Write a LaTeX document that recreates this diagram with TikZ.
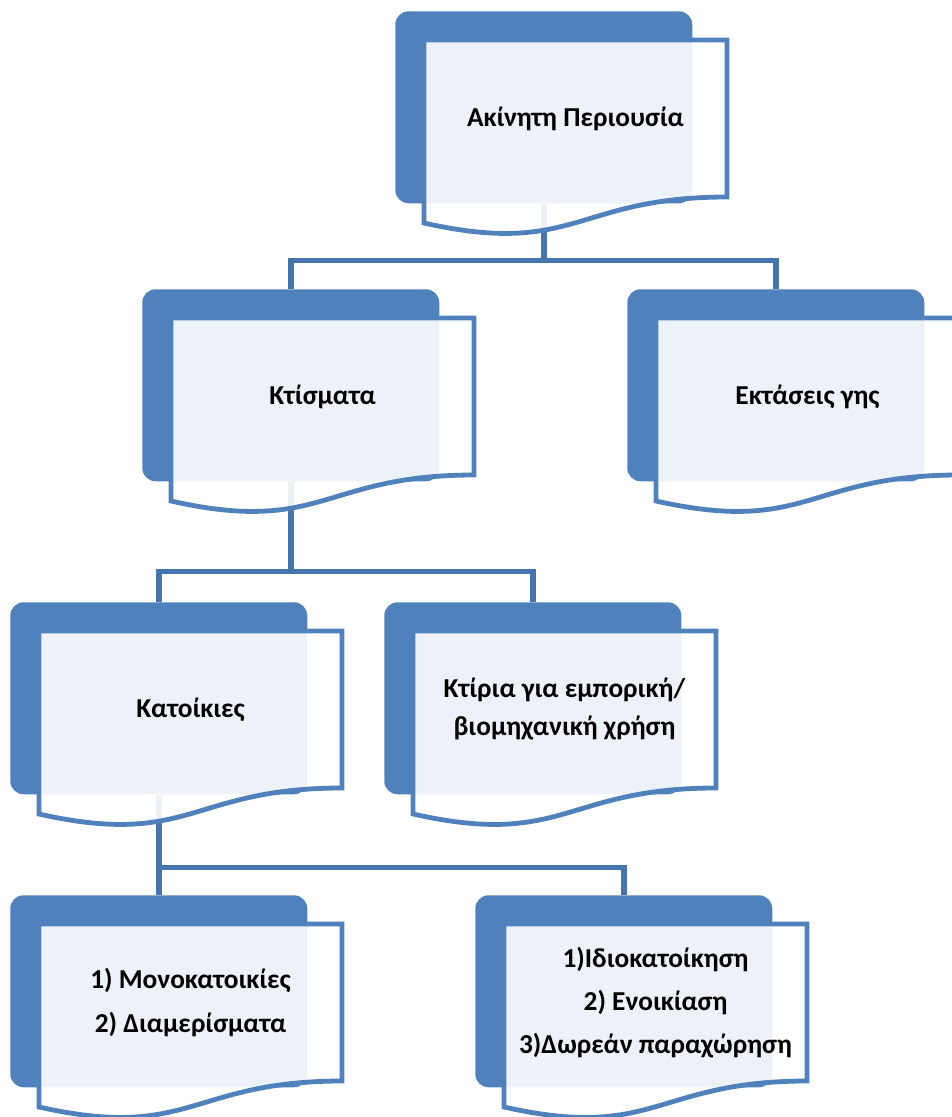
\documentclass[tikz,border=0pt]{standalone}
\usepackage{fontspec}
\setmainfont{Carlito}
\definecolor{tileblue}{HTML}{4F81BD}
\definecolor{linkblue}{HTML}{4674AC}
\tikzset{
  tile/.style={fill=tileblue, draw=none, rounded corners=10pt, minimum width=222.75pt,
               minimum height=144pt, inner sep=0pt, anchor=north west},
  docpage/.style={draw=tileblue, line width=3.6pt, fill=white, fill opacity=0.9},
  link/.style={draw=linkblue, line width=4.2pt},
  lbl/.style={font=\fontsize{20.5}{32.5}\selectfont\bfseries, align=center, text=black},
}
\newcommand{\tilebox}[3]{\node[tile] (#1) at (#2,#3) {};}
\newcommand{\docbox}[2]{%
  \draw[docpage] ([shift={(29,29)}]#1.north west) -- ++(303,0) -- ++(0,157)
     .. controls +(-151.5,0) and +(151.5,34) .. ++(-303,26) -- cycle;
  \node[lbl] (#1-txt) at ([shift={(180.5,107.5)}]#1.north west) {#2};}

\begin{document}
\begin{tikzpicture}[x=0.75pt,y=-0.75pt]
    \useasboundingbox (0,0) rectangle (951,1117);
    \tilebox{akin}{395}{11}
    \tilebox{ktism}{142}{289}
    \tilebox{ektas}{627}{289}
    \tilebox{katoik}{10}{602}
    \tilebox{ktir}{384}{602}
    \tilebox{mono}{10}{895}
    \tilebox{idio}{475}{895}
    % connectors
    \draw[link] (akin.south) -- ++(0,57) coordinate (j1);
    \draw[link] (ktism.north) |- (j1) -| (ektas.north);
    \draw[link] (ktism.south) -- ++(0,90) coordinate (j2);
    \draw[link] (katoik.north) |- (j2) -| (ktir.north);
    \draw[link] (katoik.south) -- ++(0,73) coordinate (j3);
    \draw[link] (mono.north) |- (j3) -| (idio.north);
    % pages
    \docbox{akin}{Ακίνητη Περιουσία}
    \docbox{ktism}{Κτίσματα}
    \docbox{ektas}{Εκτάσεις γης}
    \docbox{katoik}{Κατοίκιες}
    \docbox{ktir}{Κτίρια για εμπορική/\\[-4pt]βιομηχανική χρήση}
    \docbox{mono}{1) Μονοκατοικίες\\2) Διαμερίσματα}
    \docbox{idio}{1)Ιδιοκατοίκηση\\2) Ενοικίαση\\3)Δωρεάν παραχώρηση}
\end{tikzpicture}
\end{document}
